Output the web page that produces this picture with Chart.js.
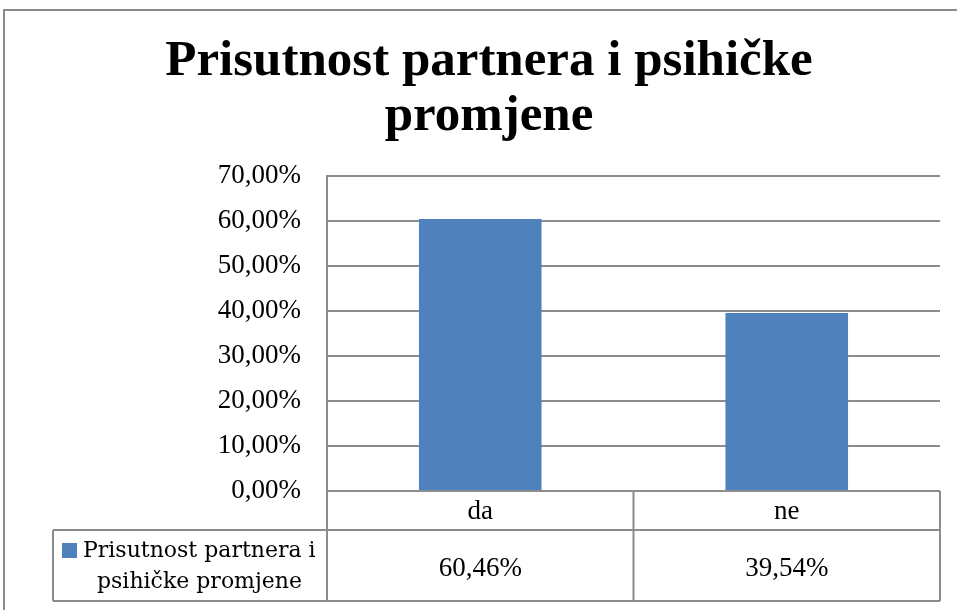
<!DOCTYPE html>
<html>
<head>
<meta charset="utf-8">
<script src="https://cdn.jsdelivr.net/npm/chart.js@4/dist/chart.umd.min.js"></script>
<style>
  body { margin: 0; background: #fff; }
  #wrap { width: 957px; height: 610px; }
</style>
</head>
<body>
<div id="wrap"><canvas id="chart" width="957" height="610"></canvas></div>
<script>
// chart data
const titleLines = ["Prisutnost partnera i psihičke", "promjene"];
const categories = ["da", "ne"];
const seriesName = "Prisutnost partnera i psihičke promjene";
const legendLines = ["Prisutnost partnera i", "psihičke promjene"];
const seriesValues = [60.46, 39.54];
const yMax = 70;
const yStep = 10;

const lineColor = "#8c8c8c";
const barColor = "#4f81bd";

// format like 60,46%
function pct(v) {
  return v.toFixed(2).replace(".", ",") + "%";
}

// draws the title, outer frame and the data table under the plot
const tablePlugin = {
  id: "dataTable",
  afterDraw(chart) {
    const ctx = chart.ctx;
    const area = chart.chartArea;
    const x = chart.scales.x;
    const row1 = area.bottom + 39;
    const row2 = area.bottom + 110;
    const legendLeft = 53;

    ctx.save();
    ctx.strokeStyle = lineColor;
    ctx.lineWidth = 2;

    // outer frame
    ctx.strokeRect(4, 10, 1000, 700);

    // title
    ctx.fillStyle = "#000";
    ctx.font = "bold 51px 'Liberation Serif'";
    ctx.textAlign = "center";
    ctx.textBaseline = "alphabetic";
    ctx.fillText(titleLines[0], 489, 75);
    ctx.fillText(titleLines[1], 489, 130);

    ctx.beginPath();
    // horizontal lines
    ctx.moveTo(legendLeft, row1); ctx.lineTo(area.right, row1);
    ctx.moveTo(legendLeft, row2); ctx.lineTo(area.right, row2);
    ctx.moveTo(area.left, area.bottom); ctx.lineTo(area.right, area.bottom);
    // vertical lines
    ctx.moveTo(legendLeft, row1); ctx.lineTo(legendLeft, row2);
    ctx.moveTo(area.left, area.bottom); ctx.lineTo(area.left, row2);
    ctx.moveTo(area.right, area.bottom); ctx.lineTo(area.right, row2);
    for (let i = 1; i < categories.length; i++) {
      const mid = (x.getPixelForValue(i - 1) + x.getPixelForValue(i)) / 2;
      ctx.moveTo(mid, area.bottom); ctx.lineTo(mid, row2);
    }
    ctx.stroke();

    // category labels and values
    ctx.font = "27px 'Liberation Serif'";
    categories.forEach((c, i) => {
      const cx = x.getPixelForValue(i);
      ctx.fillText(c, cx, area.bottom + 28);
      ctx.fillText(pct(seriesValues[i]), cx, area.bottom + 85);
    });

    // legend cell
    ctx.fillStyle = barColor;
    ctx.fillRect(62, row1 + 13, 15, 15);
    ctx.fillStyle = "#000";
    ctx.font = "22px 'DejaVu Serif'";
    ctx.textAlign = "left";
    ctx.fillText(legendLines[0], 83, row1 + 27);
    ctx.fillText(legendLines[1], 97, row1 + 58);
    ctx.restore();
  }
};

new Chart(document.getElementById("chart"), {
  type: "bar",
  data: {
    labels: categories,
    datasets: [{
      label: seriesName,
      data: seriesValues,
      backgroundColor: barColor,
      barPercentage: 0.4,
      categoryPercentage: 1
    }]
  },
  options: {
    responsive: false,
    animation: false,
    layout: { padding: { left: 0, right: 17, top: 176, bottom: 119 } },
    plugins: {
      legend: { display: false },
      tooltip: { enabled: false },
      title: { display: false }
    },
    scales: {
      x: { display: false },
      y: {
        min: 0,
        max: yMax,
        afterFit(s) { s.width = 327; },
        ticks: {
          stepSize: yStep,
          color: "#000",
          padding: 26,
          font: { family: "'Liberation Serif'", size: 27 },
          callback: (v) => pct(v)
        },
        grid: { color: lineColor, lineWidth: 2, drawTicks: false },
        border: { color: lineColor, width: 2 }
      }
    }
  },
  plugins: [tablePlugin]
});
</script>
</body>
</html>
